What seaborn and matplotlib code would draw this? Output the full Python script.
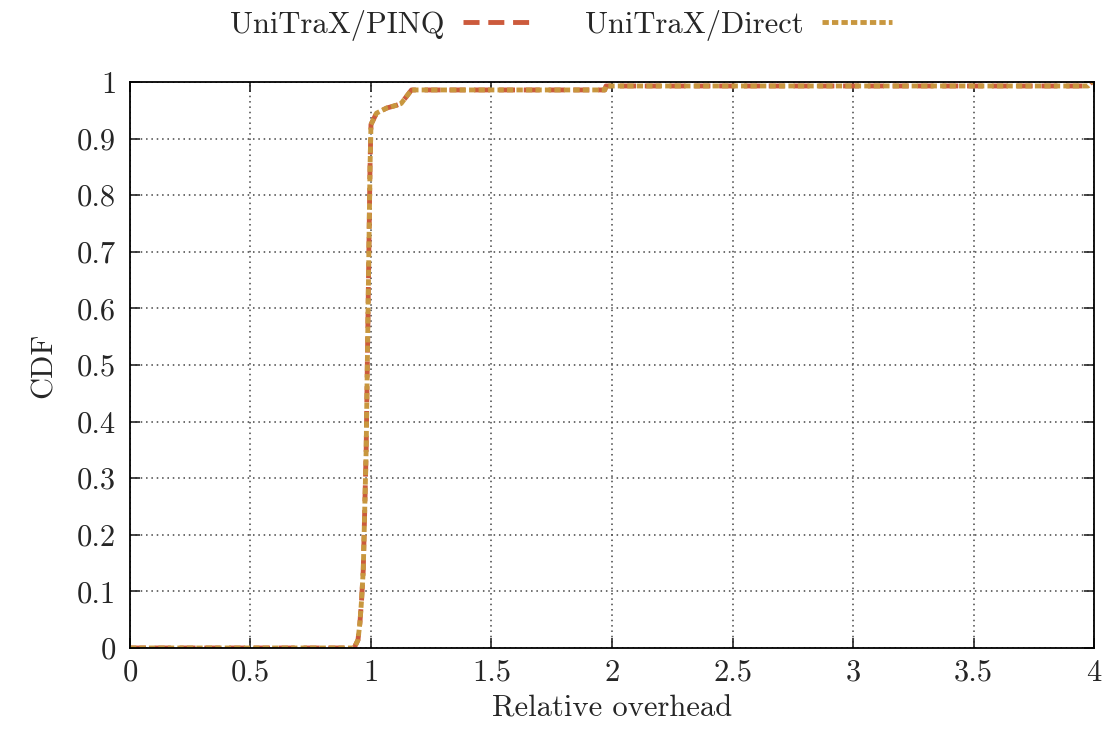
import pandas as pd
import numpy as np
import matplotlib.pyplot as plt
import seaborn as sns

# CDF points
overhead = [0.0, 0.93, 0.946, 0.954, 0.961, 0.968, 0.98, 0.996, 1.0, 1.023, 1.065, 1.106, 1.125, 1.168, 1.97, 1.975, 3.975, 3.99]
cdf_pinq = [0.0, 0.0, 0.014, 0.044, 0.085, 0.138, 0.35, 0.85, 0.925, 0.945, 0.954, 0.959, 0.962, 0.986, 0.986, 0.993, 0.993, 1.0]
cdf_direct = [0.0, 0.0, 0.014, 0.044, 0.085, 0.138, 0.35, 0.85, 0.925, 0.945, 0.954, 0.959, 0.962, 0.986, 0.986, 0.993, 0.993, 1.0]

xtick_labels = ['0', '0.5', '1', '1.5', '2', '2.5', '3', '3.5', '4']
ytick_labels = ['0', '0.1', '0.2', '0.3', '0.4', '0.5', '0.6', '0.7', '0.8', '0.9', '1']

sns.set_style('ticks')
plt.rcParams['font.family'] = ['cmr10', 'DejaVu Serif']
plt.rcParams['axes.formatter.use_mathtext'] = True
plt.rcParams['xtick.direction'] = 'in'
plt.rcParams['ytick.direction'] = 'in'

fig = plt.figure(figsize=(11.07, 7.35), dpi=100)
ax = fig.add_axes([0.1174, 0.1184, 0.8709, 0.77])

df = pd.DataFrame({'x': overhead + overhead,
                   'y': cdf_pinq + cdf_direct,
                   'series': ['UniTraX/PINQ'] * len(overhead) + ['UniTraX/Direct'] * len(overhead)})

sns.lineplot(data=df, x='x', y='y', hue='series', style='series',
             palette={'UniTraX/PINQ': '#cc5a3c', 'UniTraX/Direct': '#c8973f'},
             dashes={'UniTraX/PINQ': (3.3, 1.8), 'UniTraX/Direct': (1.3, 0.65)},
             linewidth=3.5, estimator=None, sort=False, ax=ax)

ax.set_xlim(0, 4)
ax.set_ylim(0, 1)
ax.set_xticks(np.arange(0, 4.01, 0.5))
ax.set_yticks(np.arange(0, 1.01, 0.1))
ax.set_xticklabels(xtick_labels)
ax.set_yticklabels(ytick_labels)
ax.tick_params(labelsize=22, length=7, width=1.2, top=True, right=True)
ax.tick_params(axis='x', pad=8)
ax.tick_params(axis='y', pad=10)
ax.grid(True, linestyle=(0, (1, 2.5)), color='#444444', linewidth=1.1)
for s in ax.spines.values():
    s.set_linewidth(1.3)
    s.set_color('black')
ax.set_xlabel('Relative overhead', fontsize=22, labelpad=6)
ax.set_ylabel('CDF', fontsize=22, labelpad=14)

handles, labels = ax.get_legend_handles_labels()
ax.legend(handles, labels, loc='center', bbox_to_anchor=(0.447, 1.10),
          ncol=2, frameon=False, fontsize=22, markerfirst=False,
          handlelength=2.3, handletextpad=0.6, columnspacing=1.7)

fig.savefig('out.png', dpi=100)
